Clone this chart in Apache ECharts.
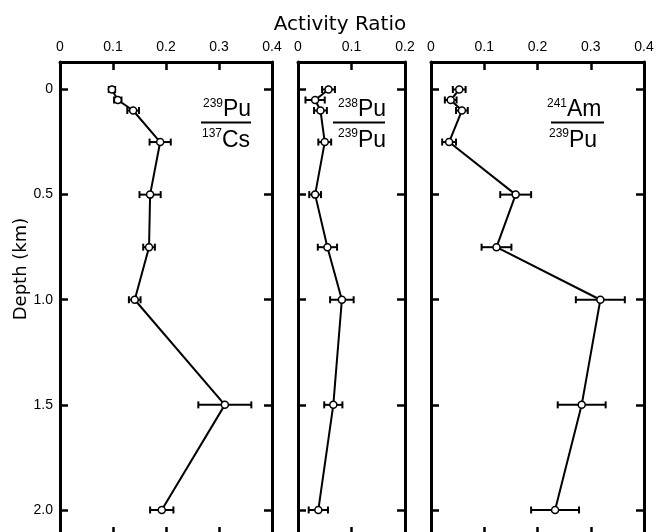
<!DOCTYPE html>
<html><head><meta charset="utf-8">
<script src="https://cdn.jsdelivr.net/npm/echarts@6/dist/echarts.min.js"></script>
<style>html,body{margin:0;padding:0;background:#fff}#c{width:656px;height:532px}</style>
</head><body><div id="c"></div>
<script>
// ---- data ----
const depthKm = [0, 0.05, 0.1, 0.25, 0.5, 0.75, 1.0, 1.5, 2.0];
const pu239Cs137 = [0.098, 0.109, 0.138, 0.189, 0.170, 0.168, 0.141, 0.311, 0.192];
const pu239Cs137Err = [0.006, 0.007, 0.011, 0.020, 0.020, 0.011, 0.011, 0.050, 0.022];
const pu238Pu239 = [0.057, 0.032, 0.042, 0.050, 0.032, 0.055, 0.082, 0.066, 0.038];
const pu238Pu239Err = [0.012, 0.018, 0.012, 0.012, 0.011, 0.018, 0.022, 0.017, 0.018];
const am241Pu239 = [0.053, 0.037, 0.058, 0.034, 0.159, 0.123, 0.318, 0.283, 0.233];
const am241Pu239Err = [0.012, 0.011, 0.011, 0.013, 0.029, 0.028, 0.046, 0.045, 0.045];
const depthTicks = [0, 0.5, 1.0, 1.5, 2.0];
const panelMax = [0.4, 0.2, 0.4];
const xTitle = 'Activity Ratio';
const yTitle = 'Depth (km)';
const fractions = [
  {numSup: '239', numMain: 'Pu', denSup: '137', denMain: 'Cs'},
  {numSup: '238', numMain: 'Pu', denSup: '239', denMain: 'Pu'},
  {numSup: '241', numMain: 'Am', denSup: '239', denMain: 'Pu'}
];

// ---- layout ----
const grids = [
  {left: 60, width: 212},
  {left: 298, width: 107},
  {left: 431, width: 213}
];
const gridTop = 62, gridHeight = 473;
const yMin = -0.1308, yMax = 2.119;
const tickFont = 'Liberation Sans';
const values = [pu239Cs137, pu238Pu239, am241Pu239];
const errs = [pu239Cs137Err, pu238Pu239Err, am241Pu239Err];

const chart = echarts.init(document.getElementById('c'), null, {renderer: 'canvas'});

const gridOpt = [], xAxes = [], yAxes = [], series = [];
grids.forEach((g, i) => {
  gridOpt.push({left: g.left, width: g.width, top: gridTop, height: gridHeight,
    containLabel: false, outerBoundsMode: 'none', show: false});
  ['top', 'bottom'].forEach(pos => {
    xAxes.push({
      type: 'value', gridIndex: i, position: pos, min: 0, max: panelMax[i], interval: 0.1,
      axisLine: {show: true, onZero: false, lineStyle: {color: '#000', width: 3}},
      axisTick: {show: true, inside: true, length: 8, lineStyle: {color: '#000', width: 2.5}},
      axisLabel: {show: pos === 'top', margin: 8, fontSize: 14, color: '#000', fontFamily: tickFont,
        showMinLabel: true, showMaxLabel: true},
      splitLine: {show: false}
    });
  });
  ['left', 'right'].forEach(pos => {
    yAxes.push({
      type: 'value', gridIndex: i, position: pos, inverse: true, min: yMin, max: yMax,
      axisLine: {show: true, onZero: false, lineStyle: {color: '#000', width: 3}},
      axisTick: {show: true, inside: true, length: 8, customValues: depthTicks,
        lineStyle: {color: '#000', width: 2.5}},
      axisLabel: {show: i === 0 && pos === 'left', customValues: depthTicks, margin: 7,
        fontSize: 14, color: '#000', fontFamily: tickFont,
        formatter: v => v === 0 ? '0' : v.toFixed(1)},
      splitLine: {show: false}
    });
  });
  const vals = values[i], er = errs[i];
  series.push({
    type: 'custom', xAxisIndex: 2 * i, yAxisIndex: 2 * i, z: 2, silent: true,
    data: depthKm.map((d, j) => [vals[j], d, er[j]]),
    encode: {x: 0, y: 1},
    renderItem: (params, api) => {
      const x = api.value(0), y = api.value(1), e = api.value(2);
      const a = api.coord([x - e, y]), b = api.coord([x + e, y]);
      const h = 3.5;
      const st = {stroke: '#000', lineWidth: 2};
      return {type: 'group', children: [
        {type: 'line', shape: {x1: a[0], y1: a[1], x2: b[0], y2: b[1]}, style: st},
        {type: 'line', shape: {x1: a[0], y1: a[1] - h, x2: a[0], y2: a[1] + h}, style: st},
        {type: 'line', shape: {x1: b[0], y1: b[1] - h, x2: b[0], y2: b[1] + h}, style: st}
      ]};
    }
  });
  series.push({
    type: 'line', xAxisIndex: 2 * i, yAxisIndex: 2 * i, z: 3, silent: true,
    data: depthKm.map((d, j) => [vals[j], d]),
    symbol: 'circle', symbolSize: 7, showSymbol: true,
    itemStyle: {color: '#fff', borderColor: '#000', borderWidth: 1.5},
    lineStyle: {color: '#000', width: 2}
  });
});

// fraction labels
const fracPos = [
  {x: 223, xd: 222, lx1: 201, lx2: 251},
  {x: 358, xd: 358, lx1: 333, lx2: 385},
  {x: 567, xd: 569, lx1: 551, lx2: 604}
];
const mainFont = '23px "Liberation Sans"';
const supFont = '12px "Liberation Sans"';
const graphics = [];
fractions.forEach((f, i) => {
  const p = fracPos[i];
  graphics.push(
    {type: 'text', x: p.x, y: 104, style: {text: f.numSup, font: supFont, fill: '#000', textAlign: 'right', textVerticalAlign: 'middle', verticalAlign: 'middle'}},
    {type: 'text', x: p.x, y: 110, style: {text: f.numMain, font: mainFont, fill: '#000', textAlign: 'left', textVerticalAlign: 'middle', verticalAlign: 'middle'}},
    {type: 'line', shape: {x1: p.lx1, y1: 122.5, x2: p.lx2, y2: 122.5}, style: {stroke: '#000', lineWidth: 2}},
    {type: 'text', x: p.xd, y: 134, style: {text: f.denSup, font: supFont, fill: '#000', textAlign: 'right', textVerticalAlign: 'middle', verticalAlign: 'middle'}},
    {type: 'text', x: p.xd, y: 141, style: {text: f.denMain, font: mainFont, fill: '#000', textAlign: 'left', textVerticalAlign: 'middle', verticalAlign: 'middle'}}
  );
});
graphics.push(
  {type: 'text', x: 340, y: 25, style: {text: xTitle, font: '20px "DejaVu Sans"', fill: '#000', textAlign: 'center', textVerticalAlign: 'middle', verticalAlign: 'middle'}},
  {type: 'text', x: 21, y: 269, rotation: Math.PI / 2, style: {text: yTitle, font: '18px "DejaVu Sans"', fill: '#000', textAlign: 'center', textVerticalAlign: 'middle', verticalAlign: 'middle'}}
);

chart.setOption({
  animation: false,
  backgroundColor: '#fff',
  grid: gridOpt,
  xAxis: xAxes,
  yAxis: yAxes,
  series: series,
  graphic: {elements: graphics}
});
</script>
</body></html>
